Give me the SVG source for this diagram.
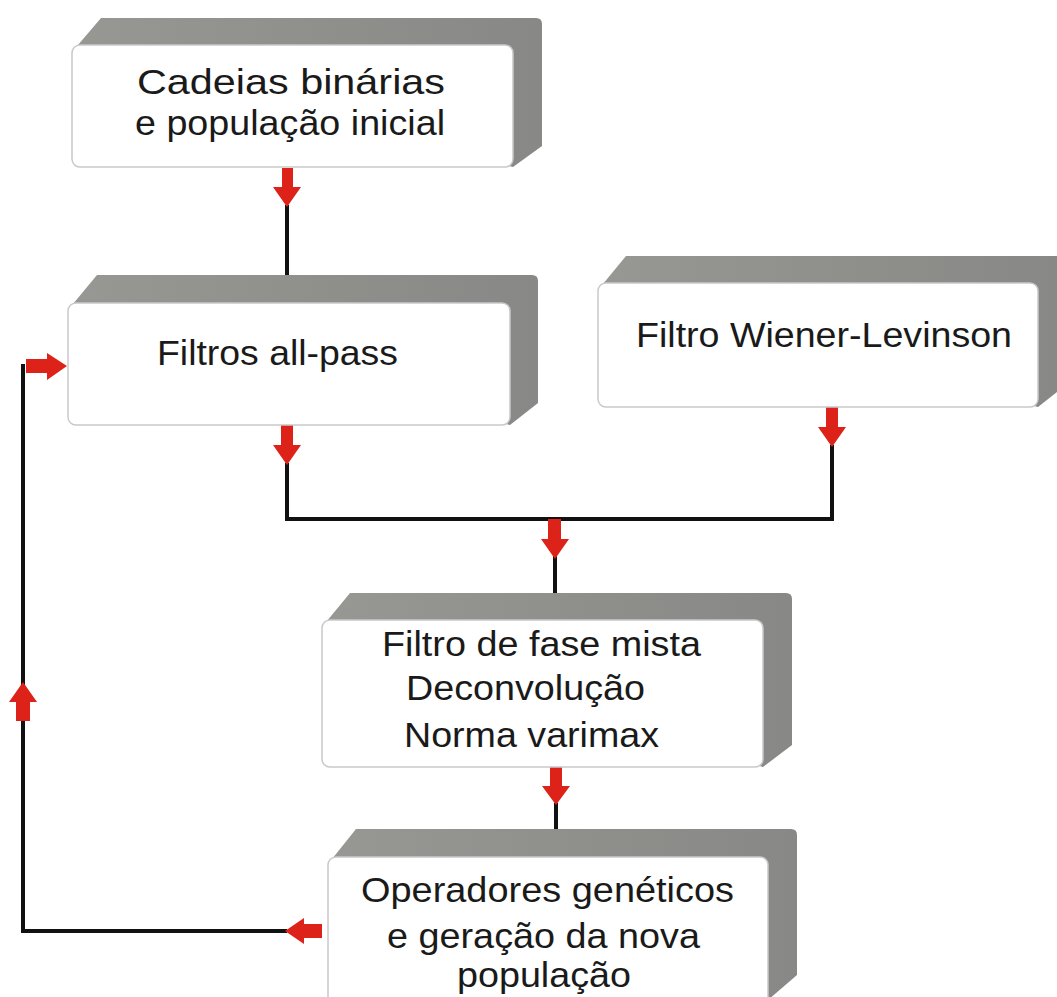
<svg xmlns="http://www.w3.org/2000/svg" width="1057" height="997" viewBox="0 0 1057 997">
<defs>
<style>
.shade{fill:#8f8f8c;}
.front{fill:#ffffff;stroke:#c9c9cc;stroke-width:1.5;}
.t{font-family:"Liberation Sans",Arial,sans-serif;font-size:35px;fill:#1a1a1a;}
.line{fill:none;stroke:#111;stroke-width:4;stroke-linejoin:miter;}
.arr{fill:#dd2219;}
</style>
<linearGradient id="g" x1="0" y1="0" x2="1" y2="0">
<stop offset="0" stop-color="#979793"/>
<stop offset="1" stop-color="#888886"/>
</linearGradient>
</defs>
<rect width="1057" height="997" fill="#ffffff"/>

<g id="connectors">
<path class="line" d="M287 205 V275"/>
<path class="line" d="M287 463 V519 H832 V445"/>
<path class="line" d="M555 519 V594"/>
<path class="line" d="M556 803 V831"/>
<path class="line" d="M287 931 H23 V364"/>
<path class="arr" d="M282 168 H293 V187 H301 L287 207 L273 187 H282 Z"/>
<path class="arr" d="M281 425 H293 V445 H301 L287 465 L273 445 H281 Z"/>
<path class="arr" d="M826 407 H838 V427 H846 L832 447 L818 427 H826 Z"/>
<path class="arr" d="M548 519 H561 V539 H569 L555 559 L541 539 H548 Z"/>
<path class="arr" d="M550 767 H562 V786 H570 L556 805 L542 786 H550 Z"/>
<path class="arr" d="M322 924 H304 V918 L285 931 L304 944 V938 H322 Z"/>
<path class="arr" d="M26 359 H47 V353 L67 366 L47 380 V373 H26 Z"/>
<path class="arr" d="M16 721 V702 H9 L23 682 L37 702 H30 V721 Z"/>
</g>

<g id="n1">
<path fill="url(#g)" d="M72 52 L101 18 H536 Q542 18 542 24 V146 L513 167 Z"/>
<rect class="front" x="72" y="45" width="441" height="122" rx="8"/>
<text class="t" x="137" y="94" textLength="308" lengthAdjust="spacingAndGlyphs">Cadeias binárias</text>
<text class="t" x="135" y="135" textLength="310" lengthAdjust="spacingAndGlyphs">e população inicial</text>
</g>

<g id="n2">
<path fill="url(#g)" d="M68 310 L97 275 H532 Q538 275 538 281 V403 L510 425 Z"/>
<rect class="front" x="68" y="303" width="442" height="122" rx="8"/>
<text class="t" x="157" y="365" textLength="241" lengthAdjust="spacingAndGlyphs">Filtros all-pass</text>
</g>

<g id="n3">
<path fill="url(#g)" d="M598 290 L626 256 H1057 V392 L1038 407 Z"/>
<rect class="front" x="598" y="283" width="440" height="124" rx="8"/>
<text class="t" x="636" y="347" textLength="376" lengthAdjust="spacingAndGlyphs">Filtro Wiener-Levinson</text>
</g>

<g id="n4">
<path fill="url(#g)" d="M322 627 L350 593 H786 Q792 593 792 599 V745 L763 767 Z"/>
<rect class="front" x="322" y="620" width="441" height="147" rx="8"/>
<text class="t" x="382" y="656" textLength="319" lengthAdjust="spacingAndGlyphs">Filtro de fase mista</text>
<text class="t" x="406" y="700" textLength="239" lengthAdjust="spacingAndGlyphs">Deconvolução</text>
<text class="t" x="404" y="747" textLength="255" lengthAdjust="spacingAndGlyphs">Norma varimax</text>
</g>

<g id="n5">
<path fill="url(#g)" d="M328 864 L356 829 H791 Q797 829 797 835 V975 L768 1000 Z"/>
<rect class="front" x="328" y="857" width="440" height="150" rx="8"/>
<text class="t" x="361" y="902" textLength="373" lengthAdjust="spacingAndGlyphs">Operadores genéticos</text>
<text class="t" x="387" y="948" textLength="313" lengthAdjust="spacingAndGlyphs">e geração da nova</text>
<text class="t" x="457" y="987" textLength="174" lengthAdjust="spacingAndGlyphs">população</text>
</g>
</svg>
